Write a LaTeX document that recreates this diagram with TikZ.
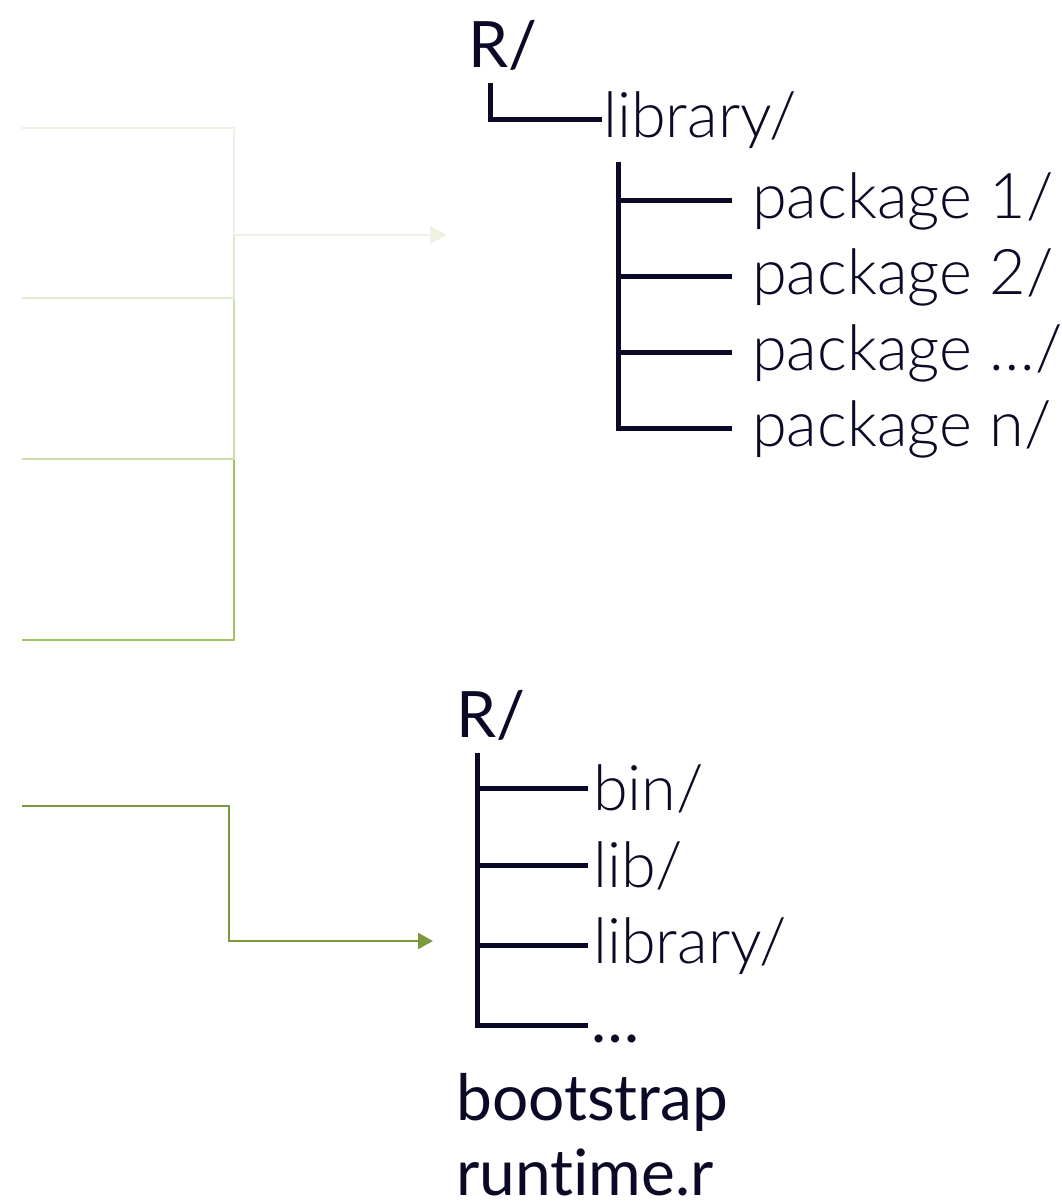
\documentclass[tikz,border=0pt]{standalone}
\usepackage{fontspec}
\setmainfont{Lato}[Ligatures=NoCommon]
\newfontfamily\thinfont{Lato Light}[Ligatures=NoCommon]
\usetikzlibrary{positioning, arrows.meta}

\definecolor{ink}{RGB}{10,10,38}
\definecolor{feedA}{RGB}{238,242,226}
\definecolor{feedB}{RGB}{224,234,206}
\definecolor{feedC}{RGB}{204,222,172}
\definecolor{feedD}{RGB}{160,196,96}
\definecolor{feedE}{RGB}{122,154,64}

\tikzset{
  dir/.style={anchor=base west, inner sep=0pt, text=ink, font=\fontsize{64}{70}\selectfont},
  sub/.style={dir, font=\thinfont\fontsize{63}{70}\selectfont},
  branch/.style={draw=ink, line width=5pt},
  feed/.style={line width=2.5pt, -{Triangle[length=15pt, width=16pt]}},
}

\begin{document}
\begin{tikzpicture}[x=1pt, y=-1pt]
\useasboundingbox (0,0) rectangle (1062,1202);

% installed library: R/ -> library/ -> packages
\node[dir] (rtop) at (468,67) {R/};
\node[sub] (libtop) at (603,137) {library/};
\coordinate (ltop) at (490,83);
\draw[branch] (ltop) |- ([xshift=-1pt]libtop.west);

\foreach \i/\lbl in {1/1, 2/2, 3/…, 4/n}
  \node[sub] (pkg\i) at (752, 142+76*\i) {package \lbl/};
\coordinate (trunk) at (618,162);
\draw[branch] (trunk) |- ([xshift=-20pt]pkg4.west);
\foreach \i in {1,2,3}
  \draw[branch] (trunk |- pkg\i.west) -- ([xshift=-20pt]pkg\i.west);

% the four inputs merge into one arrow
\coordinate (joinA) at (234,235);
\coordinate (tipA) at (445,235);
\foreach \n/\y in {D/640, C/459, B/298, A/128} {
  \coordinate (in\n) at (22,\y);
  \draw[feed, feed\n] (in\n) -| (joinA) -- (tipA);
}

% runtime layer: R/ with bin, lib, library
\node[dir] (rbot) at (456,737) {R/};
\node[sub] (bin) at (593,810) {bin/};
\node[sub] (lib) at (593,887) {lib/};
\node[sub] (libbot) at (593,963) {library/};
\node[dir] (more) at (591,1042) {…};
\coordinate (trunk2) at (477,753);
\coordinate (last) at (588,1025);
\draw[branch] (trunk2) |- (last);
\foreach \n in {bin, lib, libbot}
  \draw[branch] (trunk2 |- \n.west) -- ([xshift=-5pt]\n.west);

\node[dir] (boot) at (456,1120) {bootstrap};
\node[dir] (rt) at (456,1195) {runtime.r};

% single input arrow
\coordinate (inE) at (22,806);
\coordinate (bendE) at (229,806);
\coordinate (tipE) at (433,941);
\draw[feed, feedE] (inE) -- (bendE) |- (tipE);
\end{tikzpicture}
\end{document}
